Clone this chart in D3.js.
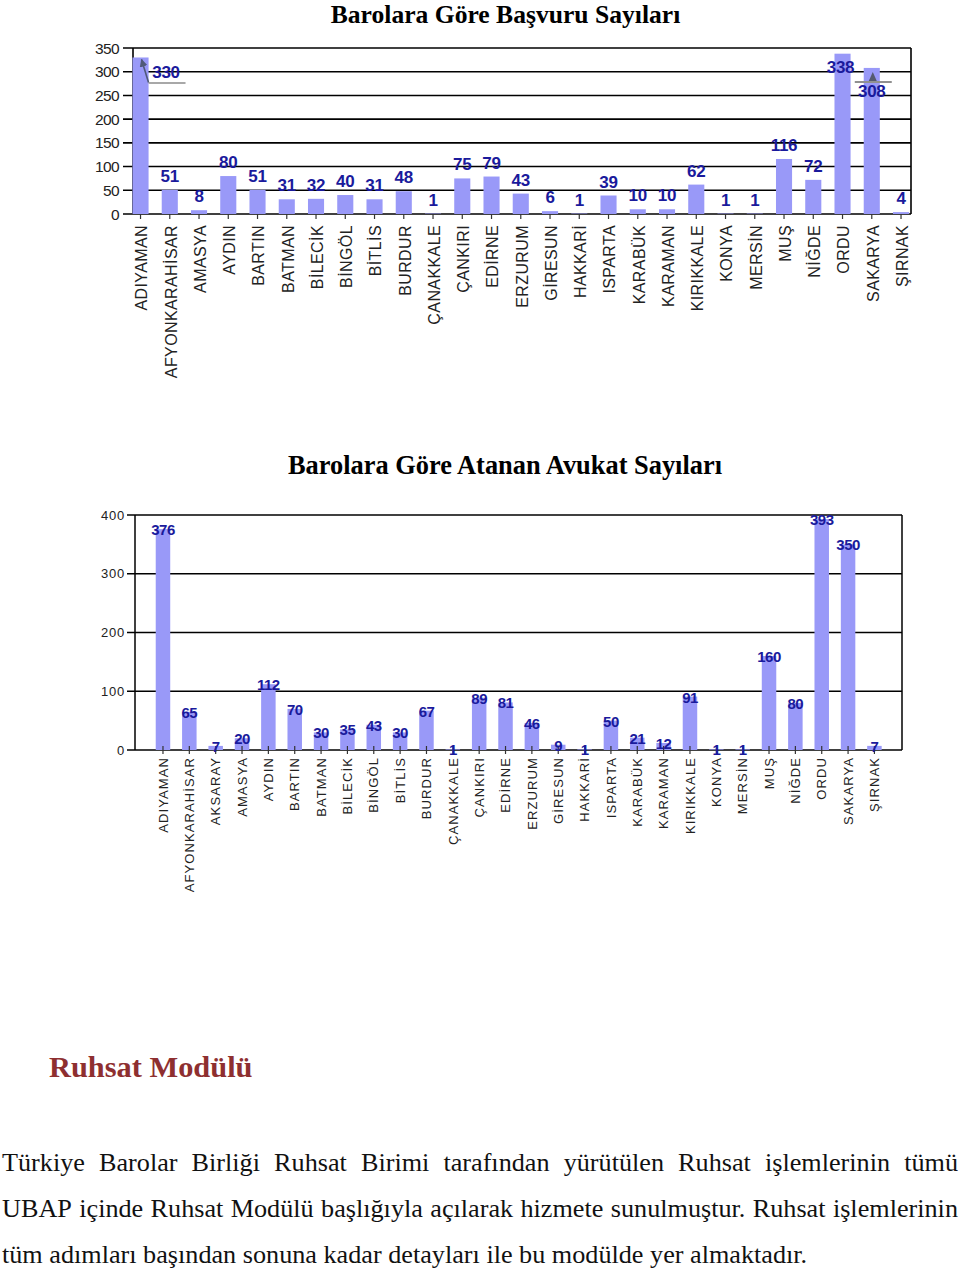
<!DOCTYPE html>
<html><head><meta charset="utf-8">
<script src="https://cdn.jsdelivr.net/npm/d3@7"></script>
<style>
html,body{margin:0;padding:0;background:#fff;}
svg{display:block;}
</style></head>
<body>
<svg id="c" width="960" height="1270"></svg>
<script>
// ---------- DATA ----------
const title1 = "Barolara Göre Başvuru Sayıları";
const cats1 = ["ADIYAMAN","AFYONKARAHİSAR","AMASYA","AYDIN","BARTIN","BATMAN","BİLECİK","BİNGÖL","BİTLİS","BURDUR","ÇANAKKALE","ÇANKIRI","EDİRNE","ERZURUM","GİRESUN","HAKKARİ","ISPARTA","KARABÜK","KARAMAN","KIRIKKALE","KONYA","MERSİN","MUŞ","NİĞDE","ORDU","SAKARYA","ŞIRNAK"];
const vals1 = [330,51,8,80,51,31,32,40,31,48,1,75,79,43,6,1,39,10,10,62,1,1,116,72,338,308,4];
const ticks1 = [0,50,100,150,200,250,300,350];

const title2 = "Barolara Göre Atanan Avukat Sayıları";
const cats2 = ["ADIYAMAN","AFYONKARAHİSAR","AKSARAY","AMASYA","AYDIN","BARTIN","BATMAN","BİLECİK","BİNGÖL","BİTLİS","BURDUR","ÇANAKKALE","ÇANKIRI","EDİRNE","ERZURUM","GİRESUN","HAKKARİ","ISPARTA","KARABÜK","KARAMAN","KIRIKKALE","KONYA","MERSİN","MUŞ","NİĞDE","ORDU","SAKARYA","ŞIRNAK"];
const vals2 = [376,65,7,20,112,70,30,35,43,30,67,1,89,81,46,9,1,50,21,12,91,1,1,160,80,393,350,7];
const ticks2 = [0,100,200,300,400];

const heading = "Ruhsat Modülü";
const paraLines = [
  "Türkiye Barolar Birliği Ruhsat Birimi tarafından yürütülen Ruhsat işlemlerinin tümü",
  "UBAP içinde Ruhsat Modülü başlığıyla açılarak hizmete sunulmuştur. Ruhsat işlemlerinin",
  "tüm adımları başından sonuna kadar detayları ile bu modülde yer almaktadır."
];

// ---------- STYLE ----------
const BAR = "#9999f8";
const LBL = "#1a1a9c";
const svg = d3.select("#c");
svg.append("rect").attr("width",960).attr("height",1270).attr("fill","#fff");

const defs = svg.append("defs");
defs.append("marker").attr("id","arr").attr("viewBox","0 0 10 10").attr("refX",9).attr("refY",5)
  .attr("markerWidth",5).attr("markerHeight",5).attr("orient","auto")
  .append("path").attr("d","M0,0 L10,5 L0,10 z").attr("fill","#505a78");

// ---------- CHART 1 ----------
(function(){
  const left=133, right=911, top=48, bottom=214;
  const x = d3.scaleBand().domain(cats1).range([125.9, 125.9+27*29.25]).paddingInner(0.45).paddingOuter(0.225);
  const y = d3.scaleLinear().domain([0,350]).range([bottom, top]);
  const g = svg.append("g");
  svg.append("text").attr("x",505.5).attr("y",23).attr("text-anchor","middle")
    .attr("font-family","Liberation Serif, Times New Roman, serif").attr("font-weight","bold")
    .attr("font-size",25.6).text(title1);
  g.selectAll("line.grid").data(ticks1).join("line")
    .attr("x1",123).attr("x2",right).attr("y1",d=>y(d)).attr("y2",d=>y(d))
    .attr("stroke","#000").attr("stroke-width",1.6);
  g.selectAll("text.yt").data(ticks1).join("text")
    .attr("x",119).attr("y",d=>y(d)).attr("dy","0.36em").attr("text-anchor","end")
    .attr("font-family","Liberation Sans, Arial, sans-serif").attr("font-size",15.5)
    .attr("letter-spacing",-0.6).attr("fill","#222").text(d=>d);
  g.append("line").attr("x1",left).attr("x2",left).attr("y1",top).attr("y2",bottom).attr("stroke","#000").attr("stroke-width",1.6);
  g.append("line").attr("x1",right).attr("x2",right).attr("y1",top).attr("y2",bottom).attr("stroke","#000").attr("stroke-width",1.6);
  g.selectAll("rect.bar").data(vals1).join("rect")
    .attr("x",(d,i)=>x(cats1[i])).attr("width",x.bandwidth())
    .attr("y",d=>y(d)).attr("height",d=>bottom-y(d)).attr("fill",BAR);
  g.selectAll("line.xt").data(cats1).join("line")
    .attr("x1",d=>x(d)+x.bandwidth()/2).attr("x2",d=>x(d)+x.bandwidth()/2)
    .attr("y1",bottom).attr("y2",bottom+5).attr("stroke","#333").attr("stroke-width",1.2);
  g.selectAll("text.xl").data(cats1).join("text")
    .attr("transform",d=>`translate(${x(d)+x.bandwidth()/2+1},${bottom+11}) rotate(-90)`)
    .attr("dy","0.36em").attr("text-anchor","end")
    .attr("font-family","Liberation Sans, Arial, sans-serif").attr("font-size",16)
    .attr("letter-spacing",0.4).attr("fill","#222").text(d=>d);
  const special = {"ADIYAMAN":{dx:25.5,dy:20.5},"ORDU":{dx:-2,dy:19},"SAKARYA":{dx:0,dy:29}};
  g.selectAll("text.vl").data(vals1).join("text")
    .attr("x",(d,i)=>x(cats1[i])+x.bandwidth()/2+((special[cats1[i]]||{}).dx||0))
    .attr("y",(d,i)=>y(d)+(special[cats1[i]]?special[cats1[i]].dy:-8))
    .attr("text-anchor","middle").attr("font-family","Liberation Sans, Arial, sans-serif")
    .attr("font-weight","bold").attr("font-size",17).attr("letter-spacing",-0.3).attr("fill",LBL).text(d=>d);
  const cA = x("ADIYAMAN")+x.bandwidth()/2;
  g.append("line").attr("x1",cA+8).attr("x2",cA+45).attr("y1",y(330)+25.5).attr("y2",y(330)+25.5).attr("stroke","#a8a8a8").attr("stroke-width",2);
  g.append("line").attr("x1",cA+8).attr("y1",y(330)+25).attr("x2",cA+1).attr("y2",y(330)+2).attr("stroke","#505a78").attr("stroke-width",1.6).attr("marker-end","url(#arr)");
  const cS = x("SAKARYA")+x.bandwidth()/2;
  g.append("line").attr("x1",cS-17).attr("x2",cS+20).attr("y1",y(308)+14).attr("y2",y(308)+14).attr("stroke","#909090").attr("stroke-width",2);
  g.append("path").attr("d",`M${cS-3},${y(308)+13} L${cS+1},${y(308)+4} L${cS+5},${y(308)+13} Z`).attr("fill","#555a70");
})();

// ---------- CHART 2 ----------
(function(){
  const left=135, right=902, top=515, bottom=750;
  const x = d3.scaleBand().domain(cats2).range([149.8, 149.8+28*26.35]).paddingInner(0.45).paddingOuter(0.225);
  const y = d3.scaleLinear().domain([0,400]).range([bottom, top]);
  const g = svg.append("g");
  svg.append("text").attr("x",505).attr("y",474).attr("text-anchor","middle")
    .attr("font-family","Liberation Serif, Times New Roman, serif").attr("font-weight","bold")
    .attr("font-size",26.4).text(title2);
  g.selectAll("line.grid").data(ticks2).join("line")
    .attr("x1",127).attr("x2",right).attr("y1",d=>y(d)).attr("y2",d=>y(d))
    .attr("stroke","#000").attr("stroke-width",1.5);
  g.selectAll("text.yt").data(ticks2).join("text")
    .attr("x",125).attr("y",d=>y(d)).attr("dy","0.36em").attr("text-anchor","end")
    .attr("font-family","Liberation Sans, Arial, sans-serif").attr("font-size",13)
    .attr("letter-spacing",0.8).attr("fill","#222").text(d=>d);
  g.append("line").attr("x1",left).attr("x2",left).attr("y1",top).attr("y2",bottom).attr("stroke","#000").attr("stroke-width",1.5);
  g.append("line").attr("x1",right).attr("x2",right).attr("y1",top).attr("y2",bottom).attr("stroke","#000").attr("stroke-width",1.5);
  g.selectAll("rect.bar").data(vals2).join("rect")
    .attr("x",(d,i)=>x(cats2[i])).attr("width",x.bandwidth())
    .attr("y",d=>y(d)).attr("height",d=>bottom-y(d)).attr("fill",BAR);
  g.selectAll("line.xt").data(cats2).join("line")
    .attr("x1",d=>x(d)+x.bandwidth()/2).attr("x2",d=>x(d)+x.bandwidth()/2)
    .attr("y1",bottom-4).attr("y2",bottom+4).attr("stroke","#333").attr("stroke-width",1.2);
  g.selectAll("text.xl").data(cats2).join("text")
    .attr("transform",d=>`translate(${x(d)+x.bandwidth()/2},${bottom+7}) rotate(-90)`)
    .attr("dy","0.36em").attr("text-anchor","end")
    .attr("font-family","Liberation Sans, Arial, sans-serif").attr("font-size",13)
    .attr("letter-spacing",1.1).attr("fill","#222").text(d=>d);
  g.selectAll("text.vl").data(vals2).join("text")
    .attr("x",(d,i)=>x(cats2[i])+x.bandwidth()/2)
    .attr("y",d=>y(d)+6)
    .attr("text-anchor","middle").attr("font-family","Liberation Sans, Arial, sans-serif")
    .attr("font-weight","bold").attr("font-size",15).attr("letter-spacing",-0.5).attr("fill",LBL).text(d=>d);
})();

// ---------- TEXT ----------
svg.append("text").attr("x",49).attr("y",1077)
  .attr("font-family","Liberation Serif, Times New Roman, serif").attr("font-weight","bold")
  .attr("font-size",30.4).attr("fill","#8e2f30").text(heading);

const baselines = [1171, 1217, 1263];
const FS = 26.2;
paraLines.forEach((line,li)=>{
  const words = line.split(" ");
  const grp = svg.append("g");
  const nodes = words.map(w=>grp.append("text").attr("font-family","Liberation Serif, Times New Roman, serif")
     .attr("font-size",FS).attr("fill","#111").attr("y",baselines[li]).text(w));
  const widths = nodes.map(n=>n.node().getComputedTextLength());
  const total = d3.sum(widths);
  let gap;
  if (li < 2) gap = (958 - 2 - total)/(words.length-1);
  else gap = FS*0.25;
  let xx = 2;
  nodes.forEach((n,i)=>{ n.attr("x",xx); xx += widths[i]+gap; });
});
</script>
</body></html>
